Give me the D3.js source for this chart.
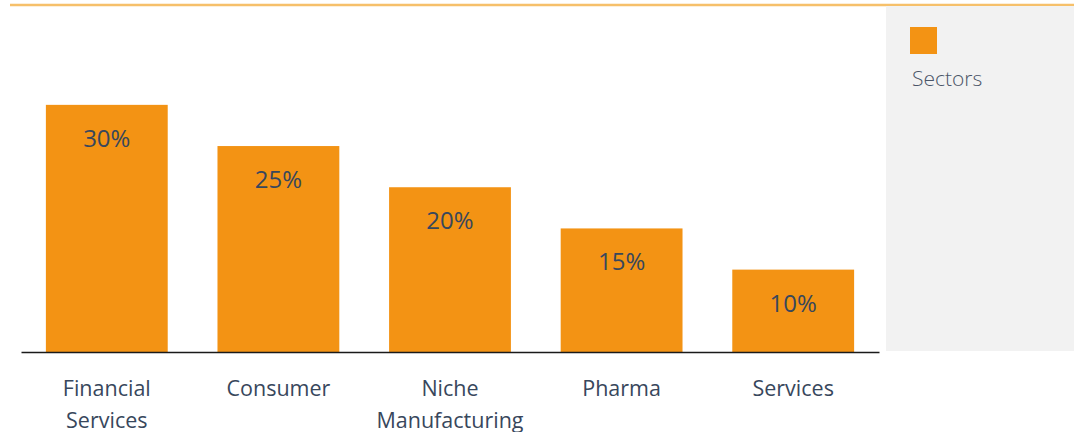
<!DOCTYPE html>
<html>
<head>
<meta charset="utf-8">
<script src="https://cdn.jsdelivr.net/npm/d3@7"></script>
<style>
  html, body { margin: 0; padding: 0; background: #ffffff; }
  svg { display: block; font-family: "Open Sans", "Noto Sans", sans-serif; }
</style>
</head>
<body>
<svg id="chart" width="1074" height="432"></svg>
<script>
// Sector allocation, percent
const categories = ["Financial Services", "Consumer", "Niche Manufacturing", "Pharma", "Services"];
const categoryLines = [["Financial", "Services"], ["Consumer"], ["Niche", "Manufacturing"], ["Pharma"], ["Services"]];
const values = [30, 25, 20, 15, 10];
const seriesName = "Sectors";

const W = 1074, H = 432;
const barColor = "#f39314";
const textColor = "#38475c";

const svg = d3.select("#chart");

// top rule
svg.append("line")
  .attr("x1", 10).attr("x2", W).attr("y1", 5).attr("y2", 5)
  .attr("stroke", "#f6c06a").attr("stroke-width", 2.5);

// legend panel
svg.append("rect")
  .attr("x", 886).attr("y", 6).attr("width", W - 886).attr("height", 345)
  .attr("fill", "#f2f2f2");

const x = d3.scaleBand()
  .domain(categories)
  .range([21, 879])
  .paddingInner(0.29)
  .paddingOuter(0.145);

const y = d3.scaleLinear().domain([0, 42]).range([352, 6]);

const data = categories.map((c, i) => ({ c, v: values[i], lines: categoryLines[i] }));

svg.append("g").selectAll("rect")
  .data(data).join("rect")
  .attr("x", d => x(d.c))
  .attr("y", d => y(d.v))
  .attr("width", x.bandwidth())
  .attr("height", d => y(0) - y(d.v))
  .attr("fill", barColor);

// value labels inside bars
svg.append("g").selectAll("text")
  .data(data).join("text")
  .attr("x", d => x(d.c) + x.bandwidth() / 2)
  .attr("y", d => y(d.v) + 42)
  .attr("text-anchor", "middle")
  .attr("font-size", 24)
  .attr("fill", textColor)
  .text(d => d.v + "%");

// baseline axis
const xAxis = d3.axisBottom(x).tickSize(0).tickFormat("");
const axisG = svg.append("g").attr("transform", `translate(0,${y(0)})`).call(xAxis);
axisG.select(".domain").attr("stroke", "#1a1a1a").attr("stroke-width", 1.5);

// category labels
const catG = svg.append("g").selectAll("text")
  .data(data).join("text")
  .attr("text-anchor", "middle")
  .attr("font-size", 21.5)
  .attr("fill", textColor);
catG.selectAll("tspan")
  .data(d => d.lines.map(l => ({ l, cx: x(d.c) + x.bandwidth() / 2 })))
  .join("tspan")
  .attr("x", d => d.cx)
  .attr("y", (d, i) => 396 + i * 32)
  .text(d => d.l);

// legend
svg.append("rect")
  .attr("x", 910).attr("y", 27).attr("width", 27).attr("height", 27)
  .attr("fill", barColor);
svg.append("text")
  .attr("x", 912).attr("y", 86)
  .attr("font-size", 21)
  .attr("font-weight", 300)
  .attr("fill", "#4a5568")
  .text(seriesName);
</script>
</body>
</html>
